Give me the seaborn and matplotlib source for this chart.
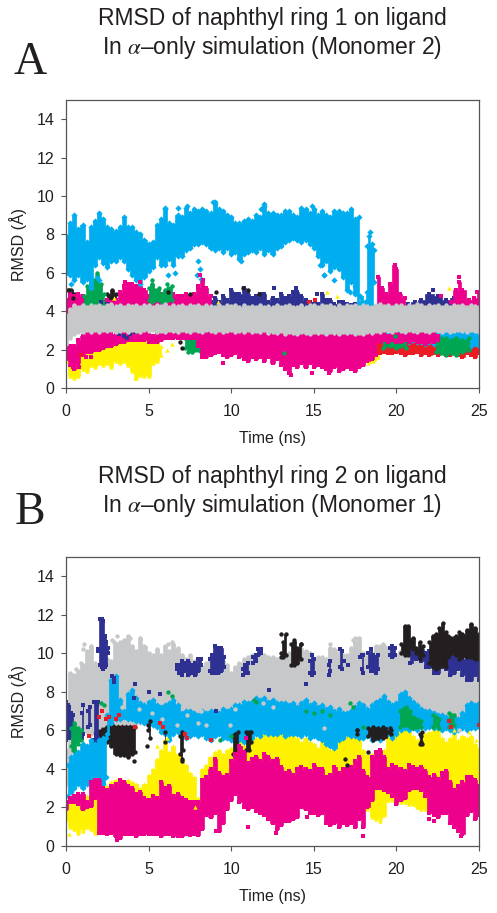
import pandas as pd
import seaborn as sns
import matplotlib
matplotlib.use('Agg')
import matplotlib.pyplot as plt

CYAN = '#00aeef'
MAGENTA = '#ec008c'
YELLOW = '#fff200'
GREEN = '#00a651'
RED = '#ed1c24'
NAVY = '#2e3192'
BLACK = '#231f20'
GRAY = '#c7c8ca'
GAP = float('nan')  # break between two separate patches of a cloud

## time stations for the big clouds, one row per 5 ns
T_Q = [0, .25, .5, .75, 1, 1.25, 1.5, 1.75, 2, 2.25, 2.5, 2.75, 3, 3.25, 3.5, 3.75, 4, 4.25, 4.5, 4.75,
       5, 5.25, 5.5, 5.75, 6, 6.25, 6.5, 6.75, 7, 7.25, 7.5, 7.75, 8, 8.25, 8.5, 8.75, 9, 9.25, 9.5, 9.75,
       10, 10.25, 10.5, 10.75, 11, 11.25, 11.5, 11.75, 12, 12.25, 12.5, 12.75, 13, 13.25, 13.5, 13.75, 14, 14.25, 14.5, 14.75,
       15, 15.25, 15.5, 15.75, 16, 16.25, 16.5, 16.75, 17, 17.25, 17.5, 17.75, 18, 18.25, 18.5, 18.75, 19, 19.25, 19.5, 19.75,
       20, 20.25, 20.5, 20.75, 21, 21.25, 21.5, 21.75, 22, 22.25, 22.5, 22.75, 23, 23.25, 23.5, 23.75, 24, 24.25, 24.5, 24.75, 25]

## panel A, clouds on T_Q
a_cyan_hi = [7.9, 8.6, 9.0, 8.3, 8.5, 7.6, 8.4, 8.7, 9.1, 8.8, 8.4, 8.3, 8.2, 8.4, 8.9, 8.4, 8.4, 8.1, 8.0, 7.7,
             7.5, 7.6, 8.5, 8.8, 9.3, 8.6, 8.5, 9.0, 8.9, 9.4, 9.1, 9.3, 9.2, 9.3, 9.2, 9.1, 9.6, 9.3, 9.2, 9.0,
             8.9, 8.6, 8.6, 8.7, 8.8, 8.7, 9.0, 8.9, 9.5, 9.1, 9.1, 9.0, 9.0, 9.2, 9.2, 9.0, 8.9, 9.4, 9.3, 9.1,
             9.3, 9.0, 9.2, 9.0, 8.9, 9.2, 9.2, 9.1, 9.1, 9.3, 8.8, 8.9]
a_cyan_lo = [6.0, 5.9, 5.6, 5.9, 5.5, 5.7, 5.2, 6.4, 6.8, 6.5, 6.3, 6.6, 6.6, 6.8, 6.6, 6.2, 5.9, 5.6, 5.4, 5.8,
             6.1, 6.3, 6.8, 6.4, 6.4, 6.7, 6.4, 6.9, 6.9, 7.2, 7.3, 7.5, 7.5, 7.6, 7.5, 7.3, 7.2, 7.3, 7.1, 7.3,
             7.0, 7.1, 6.7, 7.0, 7.1, 7.2, 7.1, 7.3, 7.0, 7.2, 7.0, 7.3, 7.4, 7.6, 7.7, 7.8, 7.7, 7.6, 7.7, 7.5,
             7.3, 6.9, 6.4, 6.6, 6.1, 6.3, 6.2, 5.8, 5.1, 5.5, 4.9, 4.4]
a_magenta_hi = [2.3, 2.2, 2.2, 2.5, 2.7, 3.0, 2.9, 3.0, 2.9, 2.9, 2.8, 2.8, 2.8, 2.9, 3.0, 3.1, 3.0, 3.0, 3.0, 3.0,
                2.8, 2.7, 2.9, 2.9, 2.9, 3.0, 3.1, 3.0, 3.0, 3.0, 3.0, 2.9, 3.3, 3.1, 3.0, 3.0, 3.1, 3.0, 3.2, 3.2,
                3.3, 3.2, 3.1, 3.3, 3.2, 3.1, 2.9, 3.0, 2.9, 2.8, 2.9, 2.9, 2.8, 2.9, 2.8, 2.9, 2.9, 3.0, 2.9, 2.9,
                2.9, 3.0, 3.1, 3.0, 3.0, 2.9, 2.9, 2.8, 2.9, 2.9, 2.8, 2.8, 2.8, 2.9, 2.7, 2.6]
a_magenta_lo = [1.5, 1.2, 1.0, 1.3, 1.7, 1.9, 1.9, 2.0, 2.0, 2.1, 2.2, 2.2, 2.3, 2.4, 2.4, 2.5, 2.5, 2.5, 2.5, 2.5,
                2.4, 2.4, 2.4, 2.5, 2.6, 2.6, 2.6, 2.6, 2.6, 2.6, 2.6, 2.6, 2.2, 1.6, 1.6, 1.7, 1.8, 1.9, 1.7, 1.6,
                1.7, 1.8, 1.6, 1.5, 1.4, 1.6, 1.5, 1.6, 1.4, 1.6, 1.3, 1.5, 1.2, 1.0, 0.8, 1.2, 1.1, 1.3, 1.1, 1.3,
                1.1, 1.2, 1.1, 1.0, 0.9, 1.1, 0.9, 1.0, 1.1, 1.0, 0.9, 1.1, 1.2, 1.4, 1.5, 1.7]
a_magenta_up_hi = [4.6, 4.9, 4.8, 4.9, 4.8, 4.7, 4.5, 4.6, 4.5, 4.5, 4.6, 4.5, 4.6, 5.0, 5.3, 5.4, 5.4, 5.3, 5.3, 5.1,
                   4.8, 4.7, 4.8, 4.9, 4.8, 4.7, 4.9, 4.8, 4.8, 4.9, 4.8, 4.9, 5.2, 5.6, 5.2, 4.8]
a_magenta_up_lo = [3.6] + [4.0] * 35
a_gray_hi = [3.8, 4.1, 4.3, 4.2, 4.3, 4.2, 4.3, 4.25, 4.3, 4.2, 4.3, 4.35, 4.25, 4.3, 4.2, 4.3, 4.25, 4.3, 4.2, 4.3,
             4.3, 4.2, 4.3, 4.25, 4.35, 4.2, 4.3, 4.25, 4.3, 4.2, 4.3, 4.25, 4.3, 4.2, 4.3, 4.25, 4.2, 4.3, 4.2, 4.3,
             4.25, 4.3, 4.2, 4.3, 4.2, 4.25, 4.2, 4.3, 4.2, 4.25, 4.2, 4.3, 4.2, 4.25, 4.3, 4.2, 4.2, 4.3, 4.2, 4.3,
             4.3, 4.2, 4.3, 4.25, 4.3, 4.2, 4.3, 4.2, 4.3, 4.25, 4.3, 4.2, 4.3, 4.25, 4.2, 4.3, 4.35, 4.25, 4.3, 4.2,
             4.3, 4.3, 4.2, 4.3, 4.25, 4.35, 4.3, 4.2, 4.3, 4.25, 4.3, 4.2, 4.3, 4.2, 4.3, 4.25, 4.3, 4.2, 4.3, 4.25, 4.2]
a_gray_lo = [2.3, 2.6, 2.8, 2.9, 2.9, 3.0, 2.9, 3.0, 2.9, 3.0, 2.95, 3.0, 2.9, 2.95, 3.0, 2.9, 3.0, 2.95, 2.9, 3.0,
             2.95, 3.0, 2.9, 2.95, 2.9, 3.0, 2.95, 2.9, 3.0, 2.95, 2.9, 3.0, 2.95, 2.9, 3.0, 2.95, 2.9, 3.0, 2.9, 2.95,
             3.0, 2.9, 2.95, 2.9, 3.0, 2.9, 2.95, 2.9, 3.0, 2.85, 2.9, 2.85, 2.95, 2.8, 2.9, 2.85, 2.8, 2.9, 2.85, 2.8,
             2.9, 2.85, 2.9, 2.8, 2.9, 2.85, 2.8, 2.9, 2.85, 2.9, 2.8, 2.85, 2.8, 2.9, 2.85, 2.95, 2.9, 3.0, 2.95, 2.9,
             3.0, 2.95, 2.9, 3.0, 2.95, 2.9, 3.0, 2.95, 2.9, 3.0, 2.95, 2.9, 3.0, 2.9, 2.95, 3.0, 2.95, 2.9, 3.0, 2.95, 2.9]
a_yellow_hi = [2.0, 2.0, 1.9, 1.8, 1.9, 1.9, 2.0, 2.0, 2.1, 2.1, 2.3, 2.3, 2.5, 2.5, 2.7, 2.8, 2.9, 2.9, 2.9, 2.9,
               2.7, 2.5, 2.4, 2.2]
a_yellow_lo = [1.4, 0.6, 0.5, 0.6, 1.0, 0.9, 1.2, 1.1, 1.3, 1.2, 1.3, 1.1, 1.4, 1.3, 1.4, 1.2, 0.9, 0.5, 0.7, 0.6,
               0.6, 1.3, 1.4, 1.7]
# from 8.5 ns
a_navy_hi = [4.6, 4.5, 4.7, 4.5, 4.8, 4.6, 5.1, 4.9, 4.9, 5.2, 4.9, 4.7, 4.8, 4.9, 4.9, 4.5, 4.7, 4.6, 4.9, 4.7,
             4.8, 5.0, 5.0, 4.8, 4.6, 4.5, 4.4, 4.4, 4.9, 4.6, 4.6, 4.4, 4.5, 4.5, 4.4, 4.3, 4.4, 4.3]
a_navy_lo = [4.0] * 38
# from 18.75 ns
a_cyan4_hi = [3.0, 2.9, 3.0, 3.0, 2.9, 3.0, 2.9, 3.0, 2.9, 3.0, 3.0, 3.1, 3.0, 3.1, 3.1, 3.0, 3.1, 3.1, 3.0, 3.1,
              3.1, 3.0, 3.1, 3.1, 3.1, 3.0]
a_cyan4_lo = [2.7, 2.6, 2.5, 2.4, 2.5, 2.4, 2.5, 2.5, 2.4, 2.5, 2.4, 2.4, 2.3, 2.4, 2.3, 2.3, 2.4, 2.3, 2.3, 2.4,
              2.3, 2.3, 2.3, 2.2, 2.3, 2.2]
a_red_hi = [2.4, 2.3, 2.4, 2.5, 2.4, 2.4, 2.5, 2.4, 2.5, 2.5, 2.6, 2.5, 2.6, 2.5, 2.5, 2.4, 2.5, 2.3, 2.4, 2.3,
            2.3, 2.4, 2.3, 2.3, 2.3, 2.3]
a_red_lo = [1.9, 1.8, 1.9, 1.8, 1.8, 1.9, 1.8, 1.7, 1.8, 1.8, 1.9, 1.7, 1.8, 1.7, 1.8, 1.7, 1.8, 1.7, 1.7, 1.8,
            1.7, 1.6, 1.8, 1.7, 1.6, 1.8]
a_magenta5_hi = [2.8, 2.9, 2.8, 2.7, 2.8, 2.9, 2.8, 2.9, 2.9, 2.8, 2.9, 2.8, 2.9, 2.9, 2.8, 2.7]
a_magenta5_lo = [2.5, 2.4, 2.5, 2.4, 2.5, 2.4, 2.4, 2.5, 2.4, 2.5, 2.4, 2.4, 2.3, 2.4, 2.4, 2.5]

## panel A, short clouds
a_cyan2_t = [18.2, 18.35, 18.5, 18.65]
a_cyan2_lo = [4.3, 4.0, 4.2, 5.5]
a_cyan2_hi = [7.4, 7.9, 7.5, 7.2]
a_cyan3_t = [17.8, 18.1, 18.2]
a_cyan3_lo = [4.2, 4.2, 4.2]
a_cyan3_hi = [4.8, 4.5, 5.0]
a_green_t = [1.1, 1.3, 1.5, 1.7, 1.9, 2.1, 2.3, 2.5, 5.0, 5.2, 5.4, 5.6, 5.8, 6.0, 6.2, 6.4]
a_green_lo = [4.4, 4.2, 4.2, 4.2, 4.3, 4.2, 4.4, GAP, 4.6, 4.5, 4.6, 4.6, 4.5, 4.5, 4.6, 4.6]
a_green_hi = [4.8, 5.3, 5.5, 5.6, 5.9, 5.4, 4.9, GAP, 5.2, 5.4, 5.1, 5.2, 4.9, 5.1, 5.2, 5.3]
a_green2_t = [7.2, 7.4, 7.6, 7.8, 8.0, 8.2]
a_green2_lo = [2.1, 1.9, 1.9, 2.0, 2.0, 1.9]
a_green2_hi = [2.6, 2.6, 2.6, 2.7, 2.6, 2.7]
a_green3_t = [19.2, 19.6, 20, 20.3, 20.6, 21.5, 22.4, 22.7, 23, 23.3, 23.6, 24, 24.4]
a_green3_lo = [2.1, 2.2, 2.1, 2.2, 2.1, GAP, 1.9, 1.8, 1.7, 1.8, 1.7, 1.9, 2.0]
a_green3_hi = [2.7, 2.5, 2.6, 2.7, 2.5, GAP, 2.5, 2.6, 2.6, 2.5, 2.6, 2.5, 2.6]
a_yellow2_t = [18.3, 18.6, 18.9, 19.0]
a_yellow2_lo = [1.3, 1.4, 1.6, 2.0]
a_yellow2_hi = [1.7, 2.0, 2.6, 2.5]
a_magenta3_t = [18.7, 18.9, 19.1, 19.4, 19.6, 19.9, 20, 20.2, 20.5]
a_magenta3_lo = [4.0, 4.0, 4.0, 4.0, 4.0, 4.0, 4.0, 4.0, 4.0]
a_magenta3_hi = [4.2, 5.8, 5.2, 4.9, 5.4, 6.4, 6.2, 4.9, 4.7]
a_magenta4_t = [23.3, 23.6, 23.8, 24, 24.4, 24.7, 25]
a_magenta4_lo = [4.0, 4.0, 4.0, 4.0, 4.0, 4.0, 4.0]
a_magenta4_hi = [4.5, 5.1, 5.5, 5.1, 4.6, 4.7, 5.0]
a_navy2_t = [20.7, 21.1, 21.5, 22, 22.5, 23, 23.5]
a_navy2_lo = [4.2, 4.2, 4.2, 4.2, 4.2, 4.2, 4.2]
a_navy2_hi = [4.4, 4.5, 4.6, 4.9, 4.8, 4.6, 4.7]
a_black_t = [0.1, 0.3, 0.5, 1.5, 2.5, 2.8, 3.0]
a_black_lo = [4.5, 4.5, 4.6, GAP, 4.5, 4.4, 4.4]
a_black_hi = [5.1, 5.1, 4.9, GAP, 4.9, 5.1, 4.9]

# loose points around the clouds
a_cyan_pts_t = [0.3, 1.9, 2.0, 6.2, 6.6, 7.9, 8.1, 8.2, 8.0, 10.6, 15.4, 15.6, 17.2, 17.5, 18.4, 18.4, 6.8, 7.3, 8.9, 11.8, 14.9, 6.0, 9.0, 12.0, 15.6, 16.2]
a_cyan_pts_y = [5.4, 5.8, 5.6, 5.9, 6.0, 5.9, 6.2, 5.7, 6.6, 6.6, 6.4, 5.9, 5.0, 5.3, 8.1, 3.9, 9.4, 9.5, 9.7, 9.3, 9.5, 9.4, 9.7, 9.6, 5.9, 5.6]
a_magenta_pts_t = [0.4, 1.2, 1.5, 3.6, 4.5, 8.1, 8.0, 8.3, 8.6, 13.6, 14.9, 15.9, 22.7, 23.8, 24.9, 0.35, 0.8, 1.5, 9.5]
a_magenta_pts_y = [1.1, 1.6, 1.6, 5.5, 5.5, 5.9, 5.3, 5.6, 4.5, 0.7, 0.8, 0.8, 4.8, 5.8, 5.0, 1.4, 1.1, 1.6, 1.3]
a_navy_pts_t = [3.2, 3.7, 4.2, 2.1, 2.5, 12.6, 13.9, 15.2, 22.2, 15.9, 3.5, 3.9]
a_navy_pts_y = [2.8, 2.6, 2.9, 4.5, 4.4, 5.2, 5.2, 4.9, 5.1, 3.1, 2.7, 2.8]
a_black_pts_t = [0.2, 0.4, 9.1, 10.7, 11.0, 11.7, 6.9, 7.0, 7.5, 6.2]
a_black_pts_y = [5.1, 4.7, 5.0, 5.2, 5.1, 4.9, 2.4, 2.1, 4.9, 5.0]
a_yellow_pts_t = [2.9, 9.2, 15.8, 16.4, 23.2, 6.4, 6.1, 0.0, 4.2]
a_yellow_pts_y = [4.7, 4.5, 5.0, 4.8, 5.2, 2.3, 2.0, 1.4, 0.5]
a_red_pts_t = [15.1, 19.0, 0.9, 14.7]
a_red_pts_y = [4.6, 1.8, 1.7, 4.5]
a_green_pts_t = [1.9, 5.2, 6.1, 13.2, 19.9]
a_green_pts_y = [6.0, 5.6, 5.4, 1.8, 2.7]

## panel B, clouds on T_Q
b_gray_hi = [5.0, 9.0, 8.9, 9.1, 9.4, 10.1, 10.4, 9.5, 9.3, 9.6, 9.7, 9.6, 10.5, 10.6, 10.7, 10.9, 10.4, 10.1, 10.8, 10.4,
             10.0, 9.9, 10.2, 9.9, 10.4, 10.1, 10.5, 10.3, 9.9, 9.7, 9.9, 9.6, 9.6, 9.3, 9.5, 9.8, 9.7, 9.6, 9.6, 9.4,
             9.0, 9.3, 9.5, 9.7, 9.8, 9.9, 9.9, 10.0, 9.9, 9.8, 9.8, 9.7, 9.6, 9.9, 10.0, 9.9, 10.0, 10.2, 10.1, 10.0,
             9.7, 9.8, 9.8, 9.7, 10.3, 10.2, 10.0, 9.9, 9.9, 10.3, 10.6, 10.8, 10.0, 9.8, 10.0, 10.4, 10.3, 10.4, 10.3, 10.0,
             9.9, 10.1, 9.9, 9.7, 9.7, 9.6, 9.6, 9.4, 9.2, 9.3, 9.3, 9.2, 9.2, 9.1, 9.1, 9.0, 9.1, 9.0, 9.0, 9.0, 9.0]
b_gray_lo = [3.2, 4.0, 5.5, 5.8, 6.0, 5.9, 5.8, 6.0, 6.2, 6.3] + [6.4] * 91
b_yellow_hi = [2.3, 2.3, 2.2, 2.5, 2.6, 2.6, 2.5, 2.6, 2.8, 3.2, 3.1, 3.3, 3.4, 3.5, 3.2, 3.4, 3.3, 3.2, 3.0, 3.2,
               3.7, 4.0, 4.5, 5.0, 5.5, 4.9, 5.2, 4.8, 4.5, 4.2, 3.8, 3.6, 2.5, 4.0, 4.2, 4.6, 4.9, 5.0, 4.8, 5.0,
               5.1, 5.4, 5.5, 5.2, 5.3, 5.6, 5.6, 5.8, 6.0, 5.9, 5.8, 6.0, 6.3, 6.2, 6.1, 5.8, 5.6, 5.4, 5.6, 5.4,
               5.3, 5.1, 5.4, 5.2, 5.0, 5.5, 5.7, 5.5, 5.7, 5.6, 5.9, 5.6, 5.0, 4.7, 4.8, 4.6, 4.5, 5.0, 5.7, 5.8,
               5.9, 6.1, 6.2, 5.9, 5.7, 5.5, 5.6, 5.8, 5.9, 6.2, 6.1, 5.6, 5.4, 5.6, 5.8, 5.5, 5.7, 5.6, 5.7, 5.3, 5.1]
b_yellow_lo = [1.4, 1.0, 0.9, 0.7, 0.9, 1.0, 0.9, 0.7, 0.9, 1.0, 2, 2, 2, 2, 2, 2, 2, 2, 2, 2,
               2, 2, 2, 2, 2, 2, 2, 2, 2, 2, 2, 2, 2, 2, 2, 2, 2, 2, 2, 2,
               3, 3, 3, 3, 3, 3, 3, 3, 3, 3, 3, 3, 3, 3, 3, 3, 3, 3, 3, 3,
               3, 3, 3, 3, 3, 3, 3, 3, 3, 3, 3, 3, 2.4, 1.9, 1.5, 1.4, 1.4, 1.6, 2.4, 2.4,
               2.4, 2.3, 2.3, 2.2, 2.2, 2.0, 1.9, 1.9, 2.0, 2.4, 2.4, 2.5, 2.5, 2.5, 2.5, 2.5, 2.5, 2.5, 2.5, 2.5, 2.5]
b_magenta_hi = [2.3, 2.5, 2.6, 2.7, 2.7, 2.3, 3.3, 3.4, 3.4, 3.0, 2.9, 3.1, 3.2, 3.4, 3.3, 3.1, 3.0, 2.7, 2.8, 2.5,
                2.4, 2.6, 2.5, 3.3, 3.0, 3.1, 2.6, 2.7, 2.5, 2.4, 2.3, 2.3, 2.3, 3.4, 3.6, 4.0, 4.5, 3.8, 3.6, 3.7,
                4.4, 4.8, 5.2, 4.9, 4.3, 4.5, 4.6, 4.4, 4.8, 4.6, 4.4, 4.5, 4.1, 3.8, 3.9, 3.7, 4.0, 4.1, 4.0, 3.9,
                4.2, 4.0, 4.0, 3.6, 3.7, 4.1, 3.8, 4.0, 4.0, 4.1, 4.4, 4.6, 3.9, 3.6, 4.6, 4.9, 5.0, 4.6, 4.0, 4.2,
                4.1, 4.0, 3.9, 4.2, 4.1, 4.0, 4.1, 3.9, 3.6, 3.7, 3.5, 3.8, 3.9, 3.3, 2.9, 3.1, 3.3, 3.6, 3.6, 3.4, 3.1]
b_magenta_lo = [1.9, 2.3, 2.3, 2.2, 1.9, 2.0, 2.1, 2.5, 0.7, 0.7, 0.6, 0.7, 0.5, 0.4, 0.6, 0.6, 0.6, 0.5, 0.6, 0.6,
                0.6, 0.6, 0.6, 0.5, 0.6, 0.6, 0.5, 0.5, 0.5, 0.6, 0.55, 0.6, 0.55, 0.9, 1.6, 1.5, 1.7, 0.8, 1.2, 1.9,
                2.4, 2.7, 2.3, 2.0, 1.9, 2.0, 1.8, 1.7, 1.6, 1.4, 1.2, 0.9, 1.1, 1.3, 1.3, 1.4, 1.5, 2.0, 1.9, 1.7,
                1.7, 1.6, 1.7, 1.2, 1.1, 1.2, 1.0, 1.2, 1.1, 1.2, 1.0, 1.4, 1.0, 2.0, 2.4, 3.0, 3.0, 2.9, 2.8, 2.6,
                2.2, 2.4, 2.5, 2.9, 3.0, 3.0, 2.9, 2.6, 1.7, 1.6, 1.5, 1.7, 1.7, 1.2, 1.0, 0.8, 0.6, 1.6, 1.8, 1.4, 1.6]
# from 2.5 ns
b_cyan_hi = [6.8, 8.6, 8.8, 7.6, 7.0, 7.9, 8.1, 7.7, 7.4, 7.3,
             7.5, 7.6, 7.3, 7.2, 7.3, 7.4, 7.6, 7.3, 6.9, 7.0, 7.0, 6.9, 6.8, 7.0, 6.9, 7.0, 7.0, 6.9, 7.1, 7.0,
             7.1, 7.3, 7.3, 7.5, 7.4, 7.5, 7.7, 7.6, 7.7, 7.5, 7.6, 7.4, 7.4, 7.4, 7.3, 7.4, 7.2, 7.4, 7.6, 7.3,
             7.4, 7.2, 7.3, 7.1, 7.2, 7.0, 7.1, 6.9, 6.9, 7.0, 7.2, 7.4, 7.3, 7.1, 7.3, 7.5, 7.6, 7.8, 7.5, 7.3,
             7.4, 7.9, 8.0, 7.7, 7.5, 7.3, 7.1, 7.0, 7.0, 6.9, 6.8, 6.8, 6.7, 6.6, 6.7, 6.6, 6.9, 7.3, 7.4, 7.3, 7.4]
b_cyan_lo = [5.8, 6.4, 6.6, 6.6, 6.7, 6.6, 6.6, 6.5, 6.5, 6.4,
             6.4, 6.3, 6.2, 5.9, 5.8, 5.5, 5.8, 5.9, 5.7, 5.6, 5.7, 5.8, 5.7, 5.8, 5.6, 5.5, 5.7, 5.8, 5.6, 5.6,
             5.5, 5.4, 5.5, 5.4, 5.5, 5.6, 5.8, 5.7, 5.9, 5.8, 5.8, 5.8, 5.9, 5.7, 5.8, 5.8, 5.8, 5.7, 5.8, 5.6,
             5.7, 5.6, 5.5, 5.3, 5.2, 5.1, 5.5, 5.6, 5.8, 5.7, 5.7, 5.6, 5.6, 5.7, 5.5, 5.6, 5.5, 5.7, 5.8, 5.6,
             5.8, 6.0, 6.1, 6.0, 6.1, 6.0, 6.2, 6.1, 6.2, 6.1, 6.1, 6.0, 6.1, 6.0, 5.9, 6.0, 6.1, 6.0, 6.1, 6.1, 6.2]

## panel B, short clouds
b_cyan2_t = [0.1, 0.3, 0.5, 0.75, 1, 1.25, 1.5, 1.75, 2, 2.25, 2.45]
b_cyan2_lo = [2.6, 2.8, 3.0, 3.2, 3.0, 3.2, 3.2, 3.4, 3.3, 3.2, 3.6]
b_cyan2_hi = [4.2, 4.6, 5.0, 4.9, 5.3, 5.2, 5.5, 5.3, 5.5, 5.6, 5.6]
b_navy_t = [0, 0.1, 0.2, 0.3, 0.45, 0.6, 0.95, 1.05, 1.15, 1.35, 1.45, 1.55, 1.7, 1.85, 1.95, 2.05]
b_navy_lo = [5.5, 5.6, 5.6, 5.8, 5.7, GAP, 5.6, 5.8, GAP, 6.2, 6.3, GAP, 5.5, 5.4, 5.6, GAP]
b_navy_hi = [7.5, 7.3, 7.2, 6.9, 6.8, GAP, 6.9, 7.3, GAP, 7.0, 7.2, GAP, 7.5, 7.3, 7.5, GAP]
b_navy2_t = [1.95, 2.05, 2.15, 2.25, 2.35, 2.45, 2.55]
b_navy2_lo = [10.1, 9.4, 9.3, 9.2, 9.3, 9.4, 10.0]
b_navy2_hi = [10.2, 11.8, 11.8, 11.7, 10.9, 10.6, 10.3]
b_navy3_t = [6.7, 6.85, 7, 7.2, 7.4, 7.6, 7.8, 8.0, 8.2, 8.35, 8.7, 8.85, 9, 9.2, 9.4, 9.55, 9.7]
b_navy3_lo = [9.2, 9.0, 8.9, 9.1, 8.9, 9.0, 8.9, 9.1, 9.4, GAP, 9.1, 9.0, 9.0, 9.0, 9.1, 9.3, GAP]
b_navy3_hi = [9.4, 9.4, 9.6, 9.5, 9.6, 9.4, 9.5, 9.7, 9.7, GAP, 9.7, 9.9, 10.4, 10.3, 10.3, 9.8, GAP]
b_navy4_t = [10.7, 10.85, 11, 11.15, 11.3, 11.5, 11.65, 11.8, 11.95]
b_navy4_lo = [8.9, 9.0, 9.0, GAP, 9.5, 9.6, 9.9, 10.0, GAP]
b_navy4_hi = [9.2, 9.4, 9.5, GAP, 9.8, 9.9, 10.2, 10.2, GAP]
b_navy5_t = [14.8, 14.9, 15.0, 15.15, 15.9, 16.0, 16.1, 16.6, 16.7, 16.8, 17.9, 18.0, 18.1, 18.3, 18.45, 18.6, 18.75, 18.9, 19.05, 19.6, 19.75, 19.9, 20.05]
b_navy5_lo = [9.0, 8.9, 9.0, GAP, 8.9, 9.1, GAP, 9.3, 9.2, GAP, 9.2, 9.0, GAP, 9.3, 9.1, 9.1, 9.0, 9.2, GAP, 9.9, 9.8, 9.9, GAP]
b_navy5_hi = [9.6, 9.9, 9.7, GAP, 9.4, 9.6, GAP, 10.2, 10.1, GAP, 9.9, 9.9, GAP, 10.0, 10.2, 9.9, 9.8, 9.9, GAP, 10.3, 10.4, 10.3, GAP]
b_navy6_t = [20.8, 21.2, 21.5, 21.8, 22, 22.25, 22.5, 22.75, 23, 23.25, 23.5, 23.75, 24, 24.25, 24.5, 24.75, 25]
b_navy6_lo = [9.5, 9.7, 9.6, 9.3, 9.3, 9.0, 9.0, 9.3, 9.2, 8.9, 9.0, 9.2, 8.9, 8.6, 8.6, 8.9, 8.6]
b_navy6_hi = [10.2, 10.1, 10.2, 10.0, 10.1, 10.0, 10.0, 9.9, 9.9, 9.8, 9.8, 9.8, 9.7, 9.8, 9.8, 9.7, 9.6]
b_black_t = [1.7, 1.9, 2, 2.25, 2.5, 2.75, 3, 3.25, 3.5, 3.75, 4, 4.2]
b_black_lo = [5.3, 5.0, 4.9, 5.3, 5.4, 5.2, 4.8, 4.7, 4.7, 4.6, 4.8, 4.9]
b_black_hi = [5.9, 6.3, 6.6, 6.6, 6.6, 6.5, 6.5, 6.4, 6.5, 6.4, 6.4, 6.2]
b_black2_t = [4.95, 5.1, 5.25, 6.0, 6.15, 6.9, 7.0, 7.1, 7.2]
b_black2_lo = [6.0, 5.6, GAP, 5.4, GAP, 4.8, 4.5, 5.0, GAP]
b_black2_hi = [6.3, 6.5, GAP, 5.9, GAP, 5.7, 5.9, 5.8, GAP]
b_black3_t = [10.1, 10.25, 10.4, 10.55, 10.9, 11.05, 11.2, 11.35, 17.6, 17.75, 18.3, 18.6, 18.9, 19.2, 19.7, 19.85, 21.45, 21.55, 21.65]
b_black3_lo = [4.8, 4.9, 5.0, GAP, 5.0, 5.0, 5.4, GAP, 5.8, GAP, 5.7, 5.5, 5.6, 5.6, 5.8, GAP, 5.3, 5.3, GAP]
b_black3_hi = [5.7, 5.8, 5.9, GAP, 5.9, 5.9, 5.9, GAP, 6.0, GAP, 6.1, 6.2, 6.1, 6.2, 6.0, GAP, 5.8, 5.9, GAP]
b_black4_t = [13, 13.15, 13.3, 13.45, 13.6, 13.8, 14, 14.2, 14.35]
b_black4_lo = [9.8, 9.8, 9.9, GAP, 9.4, 9.4, 9.5, 9.7, GAP]
b_black4_hi = [10.0, 10.6, 11.0, GAP, 10.5, 10.6, 10.3, 10.5, GAP]
b_black5_t = [20.3, 20.5, 20.7, 21, 21.2, 21.4, 21.6]
b_black5_lo = [10.0, 9.9, 9.9, 10.2, 10.0, 9.7, 9.9]
b_black5_hi = [10.5, 11.4, 11.4, 10.8, 10.3, 10.6, 10.4]
b_black6_t = [22, 22.2, 22.4, 22.6, 22.8, 23, 23.15, 23.3, 23.6, 23.8, 24, 24.25, 24.5, 24.75, 25]
b_black6_lo = [9.5, 9.3, 9.2, 9.3, 9.4, 9.3, 9.8, 10.0, 9.9, 9.7, 9.8, 9.8, 9.8, 9.7, 9.7]
b_black6_hi = [10.6, 10.9, 11.0, 11.3, 11.6, 11.1, 10.9, 10.8, 10.9, 11.1, 11.0, 11.2, 11.5, 11.3, 11.0]
b_green_t = [0.3, 0.4, 0.5, 0.7, 0.9]
b_green_lo = [5.2, 5.0, 5.0, 5.3, 5.5]
b_green_hi = [6.1, 6.2, 6.4, 6.1, 6.0]
b_green2_t = [20.2, 20.4, 20.6, 20.8, 21, 21.25, 21.5, 21.8, 22.2, 22.4, 22.6, 22.9, 23.2, 23.5]
b_green2_lo = [6.2, 6.3, 6.3, 6.2, 6.1, 6.2, 6.2, GAP, 6.2, 6.3, 6.1, GAP, 6.2, 6.3]
b_green2_hi = [7.0, 7.1, 7.2, 7.0, 6.7, 6.6, 6.5, GAP, 6.8, 6.7, 6.6, GAP, 6.9, 6.8]

b_gray_pts_t = [1.0, 1.1, 0.6, 0.9, 2.9, 3.1, 3.9, 6.2, 6.4, 16.0, 17.4, 17.5, 19.0, 19.2, 2.8, 3.4, 4.4, 5.2, 5.8, 6.7, 7.3, 8.0, 8.2, 8.5, 9.9, 10.2, 11.9, 12.5, 15.6, 23.8]
b_gray_pts_y = [10.2, 10.5, 9.2, 9.5, 10.6, 10.9, 10.8, 10.5, 10.6, 10.5, 10.7, 10.8, 10.4, 10.5, 10.7, 7.2, 7.1, 6.9, 6.6, 6.3, 6.8, 6.4, 7.0, 6.3, 6.3, 7.1, 7.4, 7.2, 6.1, 6.0]
b_navy_pts_t = [5.7, 2.8, 4.2, 14.5, 17.8, 9.1, 5.0, 4.1, 12.3, 2.9, 2.9, 7.9, 16.8, 17.1]
b_navy_pts_y = [7.9, 8.8, 8.4, 8.4, 9.8, 7.0, 8.0, 7.7, 8.1, 8.7, 8.5, 9.1, 9.6, 9.4]
b_black_pts_t = [13.0, 13.8, 14.2, 4.1, 4.9, 7.0, 16.9, 17.0, 17.6, 19.6, 21.5, 21.5, 18.3]
b_black_pts_y = [11.0, 10.7, 10.5, 4.4, 5.2, 4.4, 4.5, 4.2, 6.0, 6.1, 5.4, 5.7, 4.9]
b_red_pts_t = [2.0, 2.2, 2.4, 2.6, 3.0, 3.2, 4.2, 5.7, 5.9, 7.2, 7.3, 8.8, 23.2, 23.3, 25.0, 1.4]
b_red_pts_y = [6.7, 7.0, 6.6, 6.7, 6.6, 6.8, 6.2, 6.4, 6.2, 5.8, 5.6, 5.5, 6.5, 6.2, 6.3, 5.7]
b_green_pts_t = [2.1, 2.3, 6.2, 6.4, 11.4, 11.5, 14.5, 15.0, 15.5, 16.0, 17.2, 17.4, 18.0, 9.3, 10.0]
b_green_pts_y = [7.4, 7.3, 8.0, 7.8, 7.6, 7.5, 7.0, 6.9, 7.0, 6.8, 7.4, 7.2, 6.2, 5.5, 5.7]
b_magenta_pts_t = [22.0, 22.3, 23.9, 3.1, 12.7, 18.0, 11.0, 10.9, 9.1, 14.6]
b_magenta_pts_y = [1.4, 1.3, 0.5, 0.3, 0.7, 0.5, 1.0, 5.6, 0.8, 1.5]
b_yellow_pts_t = [6.1, 5.5, 7.8, 1.0, 19.0, 23.5, 24.4, 24.8, 0.2]
b_yellow_pts_y = [5.6, 5.2, 2.0, 0.8, 1.3, 6.0, 5.9, 5.5, 0.6]

x_ticks = [0, 5, 10, 15, 20, 25]
y_ticks = [0, 2, 4, 6, 8, 10, 12, 14]
title_a = 'RMSD of naphthyl ring 1 on ligand\nIn $\\alpha$–only simulation (Monomer 2)'
title_b = 'RMSD of naphthyl ring 2 on ligand\nIn $\\alpha$–only simulation (Monomer 1)'

sns.set_style('ticks')
plt.rcParams['font.family'] = ['Liberation Sans', 'DejaVu Sans']
plt.rcParams['mathtext.fontset'] = 'stix'
plt.rcParams['text.color'] = '#231f20'


def cloud(ax, t, lo, hi, color, marker='o'):
    # body of the cloud, then the points read along both edges
    ax.fill_between(t, lo, hi, color=color, lw=0.5, step='mid')
    df = pd.DataFrame({'t': list(t) + list(t), 'y': list(lo) + list(hi)}).dropna()
    sns.scatterplot(data=df, x='t', y='y', ax=ax, color=color, marker=marker, s=10, linewidth=0)


def qcloud(ax, start, lo, hi, color, marker='o'):
    # cloud on the quarter ns stations, start is the index in T_Q
    cloud(ax, T_Q[start:start + len(lo)], lo, hi, color, marker)


def pts(ax, t, y, color, marker='o'):
    df = pd.DataFrame({'t': t, 'y': y})
    sns.scatterplot(data=df, x='t', y='y', ax=ax, color=color, marker=marker, s=10, linewidth=0)


def finish(ax):
    ax.set_xlim(0, 25)
    ax.set_ylim(0, 15)
    ax.set_xticks(x_ticks)
    ax.set_yticks(y_ticks)
    ax.set_xlabel('Time (ns)', fontsize=11.5, labelpad=9, color='#231f20')
    ax.set_ylabel('RMSD (Å)', fontsize=11.5, labelpad=7, color='#231f20')
    ax.tick_params(labelsize=11.5, length=3.5, width=0.8, color='#555555', labelcolor='#231f20')
    ax.tick_params(axis='x', pad=8)
    ax.tick_params(axis='y', pad=5)
    for s in ax.spines.values():
        s.set_visible(True)
        s.set_color('#555555')
        s.set_linewidth(0.9)


W, H = 497, 913
fig = plt.figure(figsize=(W / 100, H / 100), dpi=100)
ax_a = fig.add_axes([66 / W, 1 - 388 / H, 413 / W, 288 / H])
ax_b = fig.add_axes([66 / W, 1 - 846 / H, 413 / W, 289 / H])

cloud(ax_a, a_black_t, a_black_lo, a_black_hi, BLACK)
qcloud(ax_a, 34, a_navy_lo, a_navy_hi, NAVY, 's')
cloud(ax_a, a_navy2_t, a_navy2_lo, a_navy2_hi, NAVY, 's')
qcloud(ax_a, 0, a_magenta_up_lo, a_magenta_up_hi, MAGENTA, 's')
cloud(ax_a, a_magenta3_t, a_magenta3_lo, a_magenta3_hi, MAGENTA, 's')
cloud(ax_a, a_magenta4_t, a_magenta4_lo, a_magenta4_hi, MAGENTA, 's')
cloud(ax_a, a_green_t, a_green_lo, a_green_hi, GREEN)
qcloud(ax_a, 0, a_yellow_lo, a_yellow_hi, YELLOW, '^')
cloud(ax_a, a_yellow2_t, a_yellow2_lo, a_yellow2_hi, YELLOW, '^')
qcloud(ax_a, 75, a_red_lo, a_red_hi, RED, 's')
cloud(ax_a, a_green2_t, a_green2_lo, a_green2_hi, GREEN)
qcloud(ax_a, 75, a_cyan4_lo, a_cyan4_hi, CYAN, 'D')
cloud(ax_a, a_green3_t, a_green3_lo, a_green3_hi, GREEN)
qcloud(ax_a, 0, a_cyan_lo, a_cyan_hi, CYAN, 'D')
cloud(ax_a, a_cyan2_t, a_cyan2_lo, a_cyan2_hi, CYAN, 'D')
cloud(ax_a, a_cyan3_t, a_cyan3_lo, a_cyan3_hi, CYAN, 'D')
qcloud(ax_a, 0, a_magenta_lo, a_magenta_hi, MAGENTA, 's')
qcloud(ax_a, 75, a_magenta5_lo, a_magenta5_hi, MAGENTA, 's')
pts(ax_a, a_cyan_pts_t, a_cyan_pts_y, CYAN, 'D')
pts(ax_a, a_magenta_pts_t, a_magenta_pts_y, MAGENTA, 's')
pts(ax_a, a_navy_pts_t, a_navy_pts_y, NAVY, 's')
pts(ax_a, a_black_pts_t, a_black_pts_y, BLACK)
pts(ax_a, a_yellow_pts_t, a_yellow_pts_y, YELLOW, '^')
pts(ax_a, a_red_pts_t, a_red_pts_y, RED, 's')
pts(ax_a, a_green_pts_t, a_green_pts_y, GREEN)
qcloud(ax_a, 0, a_gray_lo, a_gray_hi, GRAY)

qcloud(ax_b, 0, b_yellow_lo, b_yellow_hi, YELLOW, '^')
cloud(ax_b, b_black_t, b_black_lo, b_black_hi, BLACK)
qcloud(ax_b, 0, b_gray_lo, b_gray_hi, GRAY)
cloud(ax_b, b_navy_t, b_navy_lo, b_navy_hi, NAVY, 's')
cloud(ax_b, b_navy2_t, b_navy2_lo, b_navy2_hi, NAVY, 's')
cloud(ax_b, b_navy3_t, b_navy3_lo, b_navy3_hi, NAVY, 's')
cloud(ax_b, b_navy4_t, b_navy4_lo, b_navy4_hi, NAVY, 's')
cloud(ax_b, b_navy5_t, b_navy5_lo, b_navy5_hi, NAVY, 's')
cloud(ax_b, b_navy6_t, b_navy6_lo, b_navy6_hi, NAVY, 's')
cloud(ax_b, b_black4_t, b_black4_lo, b_black4_hi, BLACK)
cloud(ax_b, b_black5_t, b_black5_lo, b_black5_hi, BLACK)
cloud(ax_b, b_black6_t, b_black6_lo, b_black6_hi, BLACK)
cloud(ax_b, b_cyan2_t, b_cyan2_lo, b_cyan2_hi, CYAN, 'D')
qcloud(ax_b, 10, b_cyan_lo, b_cyan_hi, CYAN, 'D')
cloud(ax_b, b_green_t, b_green_lo, b_green_hi, GREEN)
cloud(ax_b, b_green2_t, b_green2_lo, b_green2_hi, GREEN)
cloud(ax_b, b_black2_t, b_black2_lo, b_black2_hi, BLACK)
cloud(ax_b, b_black3_t, b_black3_lo, b_black3_hi, BLACK)
qcloud(ax_b, 0, b_magenta_lo, b_magenta_hi, MAGENTA, 's')
pts(ax_b, b_gray_pts_t, b_gray_pts_y, GRAY)
pts(ax_b, b_navy_pts_t, b_navy_pts_y, NAVY, 's')
pts(ax_b, b_black_pts_t, b_black_pts_y, BLACK)
pts(ax_b, b_red_pts_t, b_red_pts_y, RED, 's')
pts(ax_b, b_green_pts_t, b_green_pts_y, GREEN)
pts(ax_b, b_magenta_pts_t, b_magenta_pts_y, MAGENTA, 's')
pts(ax_b, b_yellow_pts_t, b_yellow_pts_y, YELLOW, '^')

finish(ax_a)
finish(ax_b)

fig.text(272 / W, 1 - 34 / H, title_a, ha='center', va='center', fontsize=16.5, linespacing=1.17)
fig.text(272 / W, 1 - 492 / H, title_b, ha='center', va='center', fontsize=16.5, linespacing=1.17)
fig.text(30 / W, 1 - 74 / H, 'A', ha='center', va='baseline', fontsize=33, family=['Liberation Serif', 'DejaVu Serif'])
fig.text(30 / W, 1 - 524 / H, 'B', ha='center', va='baseline', fontsize=33, family=['Liberation Serif', 'DejaVu Serif'])

fig.savefig('out.png', dpi=100)
